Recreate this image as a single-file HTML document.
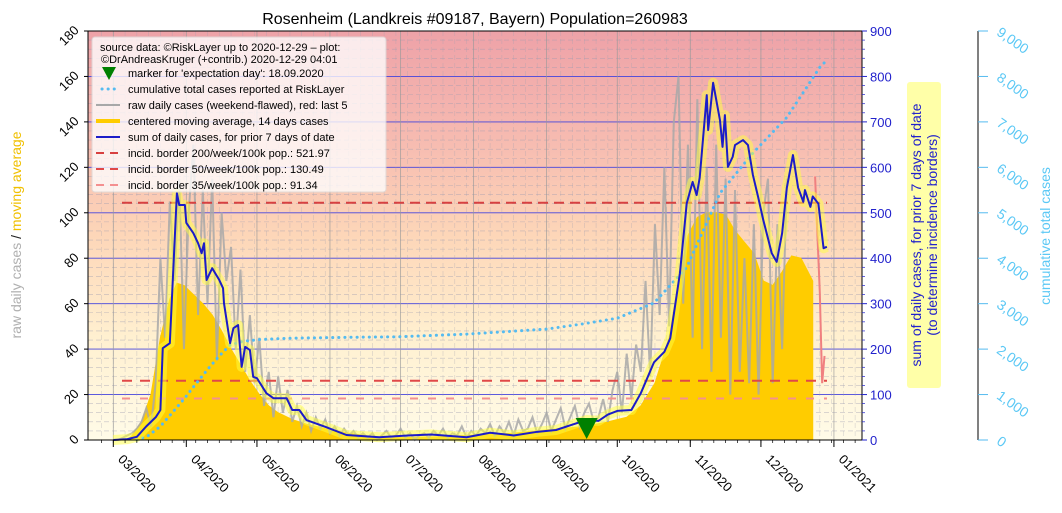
<!DOCTYPE html>
<html><head><meta charset="utf-8">
<style>
html,body{margin:0;padding:0;background:#fff;}
svg{display:block;font-family:"Liberation Sans","DejaVu Sans",sans-serif;}
</style></head>
<body>
<svg id="chart" width="1062" height="513" viewBox="0 0 1062 513" xmlns="http://www.w3.org/2000/svg">
<defs>
<linearGradient id="bg" x1="0" y1="0" x2="0" y2="1">
<stop offset="0" stop-color="#eea2a8"/>
<stop offset="0.25" stop-color="#f6b9b0"/>
<stop offset="0.5" stop-color="#fdd6b8"/>
<stop offset="0.75" stop-color="#fff0d0"/>
<stop offset="1" stop-color="#fffbe8"/>
</linearGradient>
</defs>
<text x="475" y="24" font-size="16" text-anchor="middle">Rosenheim (Landkreis #09187, Bayern) Population=260983</text>
<rect x="88" y="31" width="774" height="409" fill="url(#bg)"/>
<g id="grid"></g>
<g id="marks"></g>
<g id="axes"></g>
<g id="legend"></g>
</svg>
<script>
// ---- data ----
const monthLabels=["03/2020","04/2020","05/2020","06/2020","07/2020","08/2020","09/2020","10/2020","11/2020","12/2020","01/2021"];
const monthDays=[0,31,61,92,122,153,184,214,245,275,306];
const leftTicks=[0,20,40,60,80,100,120,140,160,180];
const rightTicks=[0,100,200,300,400,500,600,700,800,900];
const cumTicks=["0","1,000","2,000","3,000","4,000","5,000","6,000","7,000","8,000","9,000"];
// raw daily (every 2 days starting day 0)
const rawVals=[0,0,1,2,3,5,8,14,6,25,80,45,105,70,115,40,100,130,55,110,60,115,35,100,70,85,40,75,30,55,25,45,15,30,10,28,12,22,8,15,6,12,4,10,5,9,3,6,2,5,2,4,1,3,
1,3,0,2,4,1,2,5,1,3,0,2,3,1,4,2,5,1,3,2,6,1,4,2,5,3,7,2,6,3,8,2,9,4,
5,10,3,7,12,4,9,14,5,10,15,6,12,16,8,10,18,8,22,30,12,38,18,42,30,70,28,95,55,120,50,140,160,60,130,45,150,40,120,30,130,45,115,20,110,30,80,25,95,20,100,115,25,95,40,115];
const redDays=[298,299,300,301,302];
const redVals=[116,90,65,25,37];
// centered moving average (left axis)
const maDays=[6,8,12,16,20,24,27,30,34,38,42,46,50,54,58,62,66,70,76,82,90,100,110,120,140,150,160,170,180,190,200,210,218,224,230,236,240,244,248,252,256,260,264,268,272,276,280,284,288,292,296,297];
const maVals=[0,2,8,20,45,62,69,68,64,60,55,48,40,33,26,20,15,12,9,7,5,3,1.5,1,1.5,2,2.5,3,4,5,6,8,10,15,25,45,70,90,98,100,100,99,92,87,82,70,68,74,81,80,72,70];
// 7-day sum (right axis)
const sumDays=[0,6,10,14,18,20,21,24,27,28,30.4,31,34,36,37.5,38.5,39.6,42,45,46.6,47,49.6,51,53,54.5,56,58,59.4,61,65,68,73.6,76,79,82,90,99,113,125,135,150,160,170,180,188,195,201,206,210,214,220,224,229.6,234,236.5,240.6,243.5,246,247.7,249,252,252.6,254.7,257.6,258.7,259.7,261,263,264,267.4,269.5,271.6,273.8,276,279.6,281.7,284,286,288.6,290.8,293,293.7,296,297,299.4,301.6,303];
const sumVals=[0,2,7,30,50,66,202,213,543,517,517,478,455,433,411,433,352,378,352,334,301,213,246,253,161,205,198,139,136,103,92,92,66,66,44,29,11,6,10,12,6,16,10,18,22,34,44,42,56,64,66,103,171,194,224,367,521,568,539,577,759,682,786,704,645,715,601,623,649,660,649,583,535,484,411,392,455,555,627,555,524,550,513,536,520,422,425];
// cumulative (far right)
const cumDays=[10,15,20,25,30,34,40,45,49.6,55,62,75,100,120,150,184,200,214,229.6,243.5,257.6,271.6,286,300,303];
const cumVals=[0,100,300,600,900,1166,1550,1850,2090,2170,2210,2240,2260,2270,2330,2440,2560,2680,3015,3800,5430,6315,7100,8200,8360];
const borderVals=[521.97,130.49,91.34];
const markerDay=201;

// ---- scales ----
const X0=88,X1=862,Y0=440,Y1=31;
const x=d=>113.3+d*2.355;
const yL=v=>Y0-v*(Y0-Y1)/180;
const yR=v=>Y0-v*(Y0-Y1)/900;
const yC=v=>Y0-v*(Y0-Y1)/9000;
const NS="http://www.w3.org/2000/svg";
function mk(tag,attrs,parent,txt){const e=document.createElementNS(NS,tag);for(const k in attrs)e.setAttribute(k,attrs[k]);if(txt!==undefined)e.textContent=txt;parent.appendChild(e);return e;}
const grid=document.getElementById('grid'),marks=document.getElementById('marks'),axes=document.getElementById('axes'),legend=document.getElementById('legend');

// grid
for(let v=0;v<=180;v+=4){const yy=yL(v);
 if(v%20===0){let l=mk('line',{x1:X0,x2:X1,y1:yy,y2:yy,stroke:'#4444dd','stroke-width':0.9},grid);}
 else{let l=mk('line',{x1:X0,x2:X1,y1:yy,y2:yy,stroke:'#9a9ab0','stroke-width':0.6,'stroke-dasharray':'5 3','opacity':0.6},grid);}}
for(let d=-5;d<=315;d+=5){const xx=x(d);if(xx<X0||xx>X1)continue;
 let l=mk('line',{x1:xx,x2:xx,y1:Y1,y2:Y0,stroke:'#a0a0b0','stroke-width':0.6,'stroke-dasharray':'5 3','opacity':0.45},grid);}
monthDays.forEach(d=>{let l=mk('line',{x1:x(d),x2:x(d),y1:Y1,y2:Y0,stroke:'#999','stroke-width':0.8,opacity:0.8},grid);});

// MA fill
let pts=`${x(maDays[0])},${Y0} `+maDays.map((d,i)=>`${x(d)},${yL(maVals[i])}`).join(' ')+` ${x(maDays[maDays.length-1])},${Y0}`;
let ma=mk('polygon',{points:pts,fill:'#ffcc00',stroke:'#ffcc00','stroke-width':1},marks);

// raw
let raw=mk('polyline',{points:rawVals.map((v,i)=>`${x(i*2)},${yL(v)}`).join(' '),fill:'none',stroke:'#a8a8a8','stroke-width':2,opacity:0.85},marks);

let red=mk('polyline',{points:redDays.map((d,i)=>`${x(d)},${yL(redVals[i])}`).join(' '),fill:'none',stroke:'#f08080','stroke-width':2},marks);

// borders
const bStyles=[['#d84040','10 6',2],['#e04848','10 8',2],['#f49090','8 10',2]];
borderVals.forEach((b,i)=>{let l=mk('line',{x1:122,x2:827,y1:yR(b),y2:yR(b),stroke:bStyles[i][0],'stroke-dasharray':bStyles[i][1],'stroke-width':bStyles[i][2]},marks);
 });
// cumulative
let cum=mk('polyline',{points:cumDays.map((d,i)=>`${x(d)},${yC(cumVals[i])}`).join(' '),fill:'none',stroke:'#55bbf0','stroke-width':3,'stroke-dasharray':'0.1 6','stroke-linecap':'round'},marks);

// sum 7 days
const sp=sumDays.map((d,i)=>`${x(d)},${yR(sumVals[i])}`).join(' ');
let halo=mk('polyline',{points:sp,fill:'none',stroke:'#ffff40','stroke-width':10,opacity:0.5,'stroke-linejoin':'round'},marks);

let sum=mk('polyline',{points:sp,fill:'none',stroke:'#1c1cc8','stroke-width':2,'stroke-linejoin':'round'},marks);

// marker
const mx=x(markerDay);
let mkr=mk('polygon',{points:`${mx-11},418 ${mx+11},418 ${mx},439`,fill:'#008000'},marks);


// axes
let sp1=mk('line',{x1:X0,x2:X0,y1:Y1,y2:Y0,stroke:'#000','stroke-width':1},axes);
let sp2=mk('line',{x1:X0,x2:X1,y1:Y0,y2:Y0,stroke:'#000','stroke-width':1},axes);
let sp3=mk('line',{x1:X1,x2:X1,y1:Y1,y2:Y0,stroke:'#000','stroke-width':1},axes);
let sp4=mk('line',{x1:X0,x2:X1,y1:Y1,y2:Y1,stroke:'#000','stroke-width':1},axes);
let sp5=mk('line',{x1:978,x2:978,y1:Y1,y2:Y0,stroke:'#000','stroke-width':1},axes);
leftTicks.forEach(v=>{const yy=yL(v);
 let t=mk('line',{x1:X0-4,x2:X0,y1:yy,y2:yy,stroke:'#000'},axes);
 let tx=mk('text',{x:X0-10,y:yy+4,'font-size':13,'text-anchor':'end',transform:`rotate(-45 ${X0-14} ${yy})`},axes,String(v));
 });
rightTicks.forEach(v=>{const yy=yR(v);
 let t=mk('line',{x1:X1,x2:X1+5,y1:yy,y2:yy,stroke:'#2222cc'},axes);
 let tx=mk('text',{x:X1+8,y:yy+5,'font-size':13,fill:'#2222cc'},axes,String(v));
 });
for(let v=0;v<=900;v+=20){if(v%100===0)continue;const yy=yR(v);let t=mk('line',{x1:X1,x2:X1+3,y1:yy,y2:yy,stroke:'#2222cc','stroke-width':0.7},axes);}
cumTicks.forEach((s,i)=>{const yy=yC(i*1000);
 let t=mk('line',{x1:978,x2:988,y1:yy,y2:yy,stroke:'#55bbf0'},axes);
 let tx=mk('text',{x:998,y:yy+4,'font-size':14,fill:'#5bc8f5',transform:`rotate(35 998 ${yy})`},axes,s);
 });
monthDays.forEach((d,i)=>{const xx=x(d);
 let t=mk('line',{x1:xx,x2:xx,y1:Y0,y2:Y0+7,stroke:'#000'},axes);
 let tx=mk('text',{x:xx+4,y:Y0+20,'font-size':13,transform:`rotate(45 ${xx+4} ${Y0+20})`},axes,monthLabels[i]);
 });
for(let d=-5;d<=315;d+=5){const xx=x(d);if(xx<X0||xx>X1)continue;let t=mk('line',{x1:xx,x2:xx,y1:Y0,y2:Y0+3,stroke:'#000','stroke-width':0.7},axes);}
// axis titles
let lt=mk('text',{x:0,y:0,'font-size':14,'text-anchor':'middle',transform:'translate(21 235) rotate(-90)'},axes);

mk('tspan',{fill:'#b0b0b0'},lt,'raw daily cases ');mk('tspan',{fill:'#222'},lt,'  /  ');mk('tspan',{fill:'#f0c000'},lt,' moving average');
let rb=mk('rect',{x:907,y:82,width:34,height:306,rx:3,fill:'#ffffa8'},axes);
let rt1=mk('text',{x:0,y:0,'font-size':14,fill:'#2222cc','text-anchor':'middle',transform:'translate(921 235) rotate(-90)'},axes,'sum of daily cases, for prior 7 days of date');

let rt2=mk('text',{x:0,y:0,'font-size':14,fill:'#2222cc','text-anchor':'middle',transform:'translate(937 235) rotate(-90)'},axes,'(to determine incidence borders)');

let ct=mk('text',{x:0,y:0,'font-size':14,fill:'#5bc8f5','text-anchor':'middle',transform:'translate(1050 236) rotate(-90)'},axes,'cumulative total cases');


// legend
let lb=mk('rect',{x:92,y:37,width:294,height:155,rx:3,fill:'#ffffff',opacity:0.78,stroke:'#ddd'},legend);

let l1=mk('text',{x:100,y:51,'font-size':11},legend,'source data: \u00a9RiskLayer up to 2020-12-29 \u2013 plot:');
let l2=mk('text',{x:101,y:63,'font-size':11},legend,'\u00a9DrAndreasKruger (+contrib.) 2020-12-29 04:01');
const legTexts=["marker for 'expectation day': 18.09.2020","cumulative total cases reported at RiskLayer","raw daily cases (weekend-flawed), red: last 5","centered moving average, 14 days cases","sum of daily cases, for prior 7 days of date","incid. border 200/week/100k pop.: 521.97","incid. border 50/week/100k pop.: 130.49","incid. border 35/week/100k pop.: 91.34"];
legTexts.forEach((s,i)=>{const yy=73+i*16;
 let tx=mk('text',{x:128,y:yy+4,'font-size':11},legend,s);
 let sw;
 if(i===0)sw=mk('polygon',{points:`${102},${yy-6} ${116},${yy-6} ${109},${yy+7}`,fill:'#008000'},legend);
 else if(i===1)sw=mk('line',{x1:102,x2:120,y1:yy,y2:yy,stroke:'#55bbf0','stroke-width':3,'stroke-dasharray':'0.1 6','stroke-linecap':'round'},legend);
 else if(i===2)sw=mk('line',{x1:96,x2:120,y1:yy,y2:yy,stroke:'#a8a8a8','stroke-width':2},legend);
 else if(i===3)sw=mk('line',{x1:96,x2:120,y1:yy,y2:yy,stroke:'#ffcc00','stroke-width':4},legend);
 else if(i===4)sw=mk('line',{x1:96,x2:120,y1:yy,y2:yy,stroke:'#1c1cc8','stroke-width':2},legend);
 else sw=mk('line',{x1:96,x2:120,y1:yy,y2:yy,stroke:bStyles[i-5][0],'stroke-width':2,'stroke-dasharray':'8 6'},legend);
 });
</script>
</body></html>
